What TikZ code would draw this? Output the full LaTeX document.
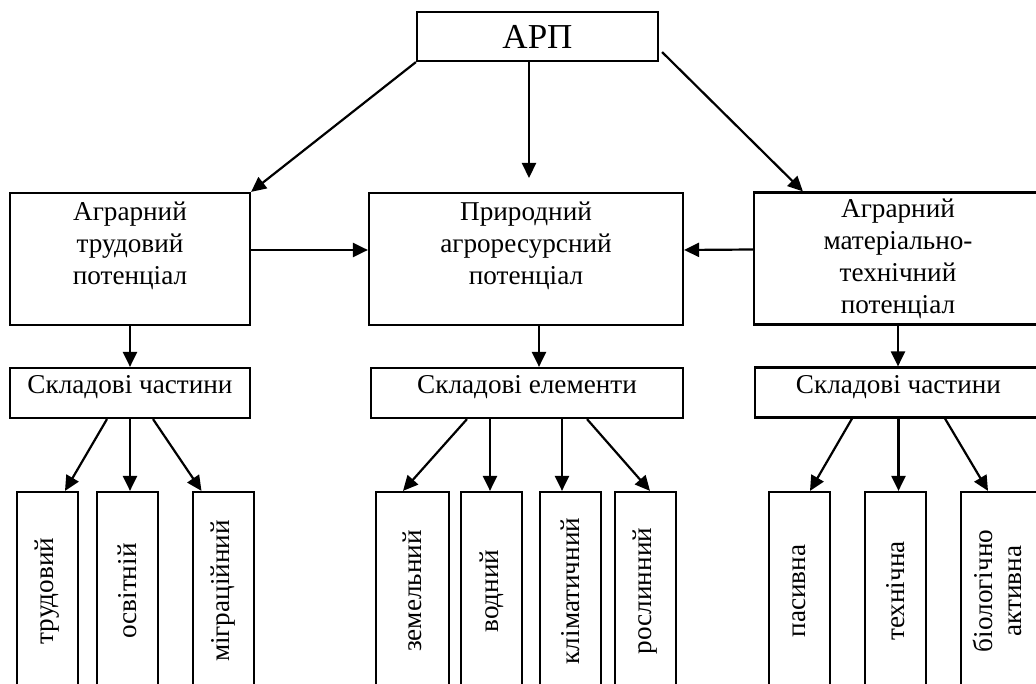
\documentclass[tikz,border=0pt]{standalone}
\usepackage{fontspec}
\usepackage{graphicx}
\usepackage{xcolor}
\setmainfont{Liberation Serif}
\usetikzlibrary{arrows.meta}
\newlength{\framewidth}
\newlength{\leafwidth}
\newlength{\leafheight}
\setlength{\framewidth}{2.2pt}
\setlength{\leafwidth}{61pt}
\setlength{\leafheight}{198pt}
\definecolor{background}{RGB}{255, 255, 255}
\definecolor{mainline}{HTML}{000000}
\newcommand{\boxtext}{\fontsize{27.2}{32}\selectfont}
\newcommand{\uptext}[1]{\rotatebox{90}{#1}}
\tikzset{
	box/.style={draw=mainline,line width=\framewidth,rectangle,inner sep=0pt,align=center,font=\boxtext},
	mainbox/.style={box,minimum height=132pt},
	partbox/.style={box,minimum height=50pt,text height=18pt,text depth=16pt},
	leafbox/.style={box,minimum width=\leafwidth,minimum height=\leafheight},
	link/.style={draw=mainline,line width=\framewidth,-{Triangle[length=15pt,width=14pt]}}
}

\begin{document}
\begin{tikzpicture}[x=1pt,y=-1pt]
				% Boundary box
				\fill[background] (0,0) rectangle (1036,684);
				\useasboundingbox (0,0) rectangle (1036,684);
				\clip (0,0) rectangle (1036,684);

				% Top box
				\node[box,minimum width=241pt,minimum height=49pt,font=\fontsize{35}{40}\selectfont] (arp) at (537.5,36.5) {АРП};

				% Potential boxes
				\node[mainbox,minimum width=240pt] (trud) at (130,259) {Аграрний\\трудовий\\потенціал\\~};
				\node[mainbox,minimum width=314pt] (pryr) at (526,259) {Природний\\агроресурсний\\потенціал\\~};
				\node[mainbox,minimum width=288pt] (mat) at (898,258.5) {Аграрний\\матеріально-\\технічний\\потенціал};

				% Component boxes
				\node[partbox,minimum width=240pt] (partL) at (130,393) {Складові частини};
				\node[partbox,minimum width=312pt] (partM) at (527,393) {Складові елементи};
				\node[partbox,minimum width=287pt] (partR) at (898.5,392.5) {Складові частини};

				% Leaf boxes (cut by the lower edge)
				\node[leafbox] (trudovyi) at (47.5,591) {\uptext{трудовий}};
				\node[leafbox] (osvitnii) at (127.5,591) {\uptext{освітній}};
				\node[leafbox] (mihr) at (223.5,591) {\uptext{міграційний}};
				\node[leafbox,minimum width=73pt] (zemelnyi) at (412.5,591) {\uptext{земельний}};
				\node[leafbox] (vodnyi) at (491.5,591) {\uptext{водний}};
				\node[leafbox] (klim) at (570.5,591) {\uptext{кліматичний}};
				\node[leafbox] (rosl) at (645.5,591) {\uptext{рослинний}};
				\node[leafbox] (pas) at (799.5,591) {\uptext{пасивна}};
				\node[leafbox] (tekh) at (895.5,591) {\uptext{технічна}};
				\node[leafbox,minimum width=79pt] (biol) at (1000.5,591) {\uptext{\begin{tabular}{@{}c@{}}біологічно\\[-3pt]активна\end{tabular}}};

				% Links from the top box
				\coordinate (pryrin) at (529,178);
				\draw[link] (arp.south west) -- (trud.north east);
				\draw[link] (arp.south -| pryrin) -- (pryrin);
				\draw[link] ([shift={(3,-10)}]arp.south east) -- ([xshift=50pt]mat.north west);

				% Links between potentials
				\draw[link] ([yshift=9pt]trud.east) -- ([yshift=9pt]pryr.west);
				\draw[link] ([yshift=9pt]mat.west) -- ([yshift=9pt]pryr.east);

				% Links to components
				\draw[link] (trud) -- (partL);
				\draw[link] ([xshift=13pt]pryr.south) -- ([xshift=12pt]partM.north);
				\draw[link] (mat.south) -- ([xshift=-0.5pt]partR.north);

				% Links to leaves
				\draw[link] ([xshift=-23pt]partL.south) -- ([xshift=17.5pt]trudovyi.north);
				\draw[link] (partL.south) -- ([xshift=2.5pt]osvitnii.north);
				\draw[link] ([xshift=23pt]partL.south) -- ([xshift=-22pt]mihr.north);
				\draw[link] ([xshift=-60pt]partM.south) -- ([xshift=-9.5pt]zemelnyi.north);
				\draw[link] ([xshift=-37pt]partM.south) -- ([xshift=-1.5pt]vodnyi.north);
				\draw[link] ([xshift=35pt]partM.south) -- ([xshift=-8.5pt]klim.north);
				\draw[link] ([xshift=60pt]partM.south) -- ([xshift=4.5pt]rosl.north);
				\draw[link] ([xshift=-46.5pt]partR.south) -- ([xshift=10.5pt]pas.north);
				\draw[link] (partR.south) -- ([xshift=3pt]tekh.north);
				\draw[link] ([xshift=46.5pt]partR.south) -- ([xshift=-12.5pt]biol.north);
\end{tikzpicture}
\end{document}
